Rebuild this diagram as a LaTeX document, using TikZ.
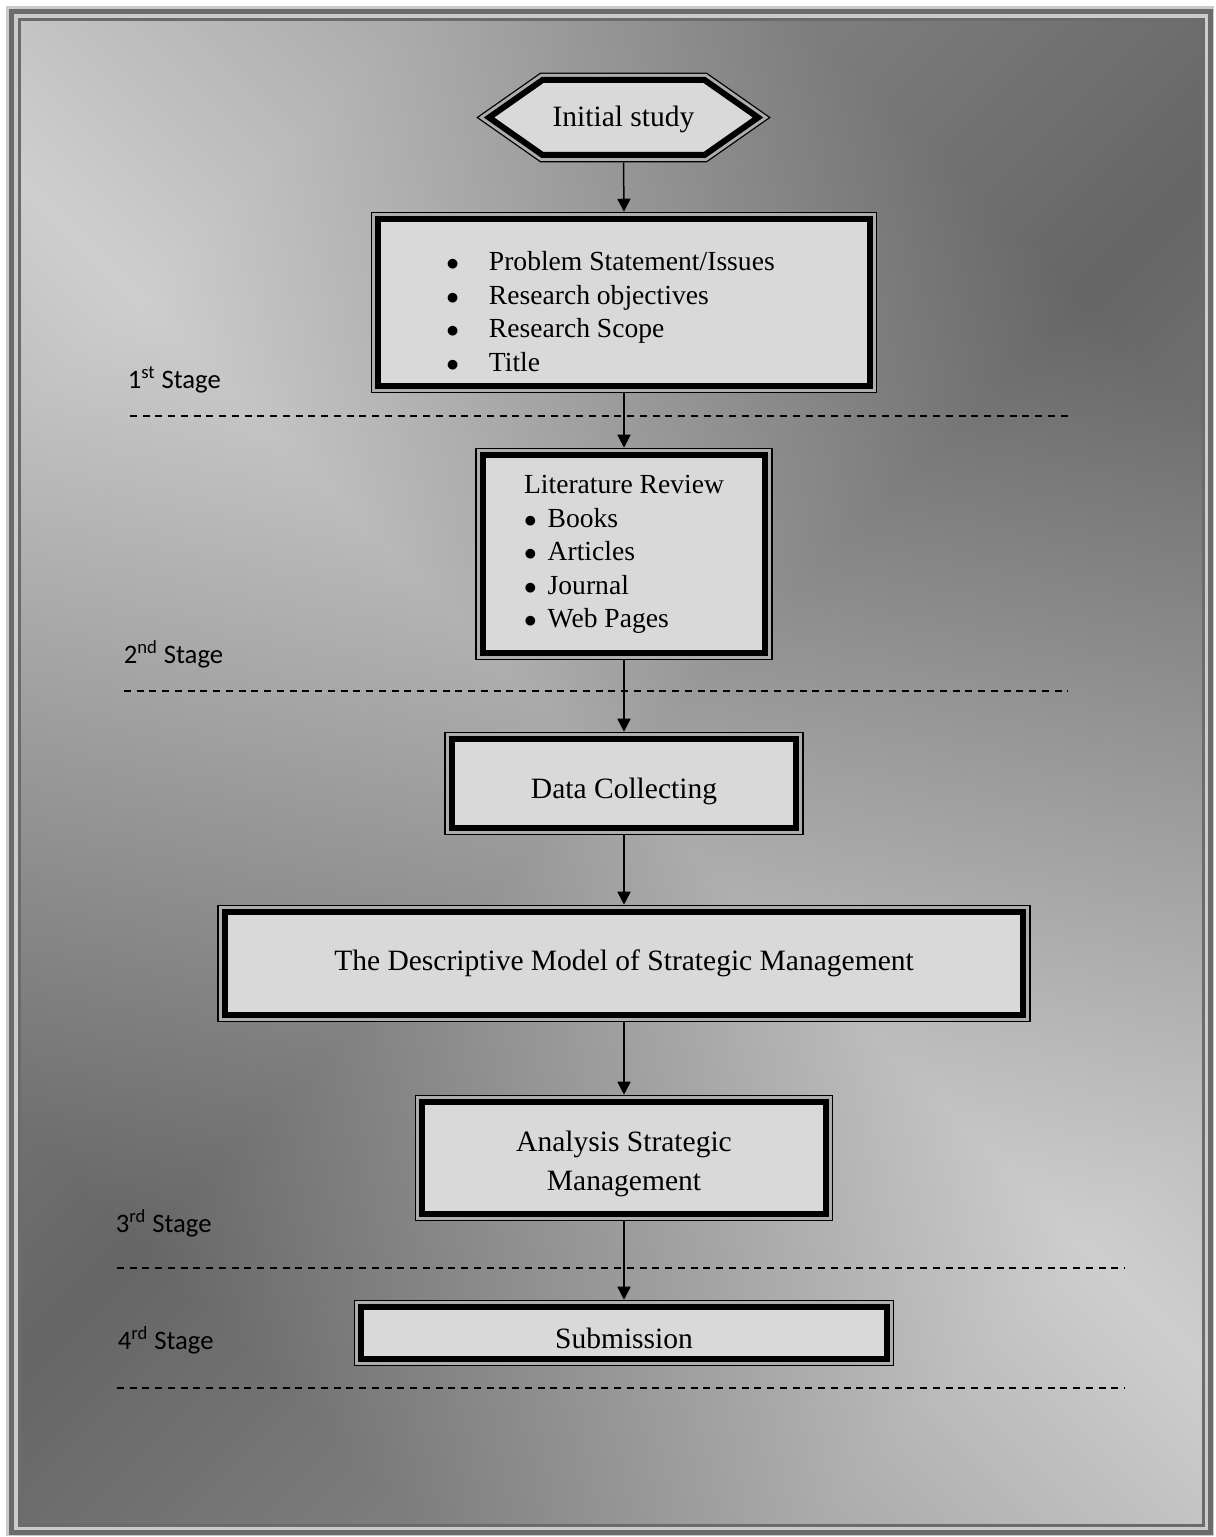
\documentclass[tikz,border=0pt]{standalone}
\usepackage{fontspec}
\setmainfont{Liberation Serif}
\newfontfamily\stagefont{Carlito}
\usetikzlibrary{arrows.meta}

\definecolor{boxfill}{gray}{0.85}
\definecolor{gapgray}{gray}{0.68}
\definecolor{framedark}{gray}{0.42}
\definecolor{framelight}{gray}{0.80}
\definecolor{shadelight}{gray}{0.81}
\definecolor{shadedark}{gray}{0.40}

\tikzset{
  dbledge/.style={draw=black, line width=0.12cm, fill=boxfill,
    preaction={draw=black, line width=0.292cm},
    preaction={draw=gapgray, line width=0.24cm}},
  stagebox/.style={dbledge, outer sep=0.146cm, inner sep=0pt,
    font=\fontsize{16.8}{19.1}\selectfont},
  listfont/.style={font=\fontsize{15.7}{19.1}\selectfont},
  stagelabel/.style={anchor=base west, inner sep=0pt,
    font=\stagefont\fontsize{15.2}{18}\selectfont},
  sepline/.style={dash pattern=on 0.14cm off 0.115cm, line width=0.04cm},
}

\begin{document}
\begin{tikzpicture}[x=0.02cm,y=-0.02cm,line width=0.03cm,>={Triangle[length=0.26cm,width=0.26cm]}]
  \useasboundingbox (0,0) rectangle (1216,1537);
  % page frame and shaded background
  \fill[framelight] (6,6) rectangle (1214,1536);
  \shade[top color=shadelight, bottom color=shadelight, middle color=shadedark, shading angle=45]
    (19.5,19.5) rectangle (1203.5,1525.5);
  \shade[top color=shadedark, bottom color=shadedark, middle color=shadelight, shading angle=-45, opacity=0.6]
    (19.5,19.5) rectangle (1203.5,1525.5);
  \draw[framedark, line width=0.1cm] (11.5,11.5) rectangle (1210.5,1532);
  \draw[framedark, line width=0.06cm] (19.5,19.5) rectangle (1203.5,1525.5);

  % stage separators
  \draw[sepline] (130,416) -- (1072,416);
  \draw[sepline] (124,691) -- (1068,691);
  \draw[sepline] (117,1268) -- (1125,1268);
  \draw[sepline] (117,1388) -- (1125,1388);

  % start: hexagon
  \coordinate (hexc) at (623.5,117.5);
  \path[dbledge] ([xshift=-2.69cm]hexc) -- ++(53.5,-37.5) -- ++(162,0) -- ++(53.5,37.5)
    -- ++(-53.5,37.5) -- ++(-162,0) -- cycle;
  \node[inner sep=0pt, minimum height=1.78cm, text height=0.38cm, text depth=0pt,
    font=\fontsize{16.8}{19.1}\selectfont] (init) at (hexc) {Initial study};

  \node[stagebox, listfont, minimum width=9.84cm, minimum height=3.34cm] (prob) at (624,302.5)
    {\begin{tabular}{@{}l@{\hspace{0.6cm}}l@{\hspace{0.54cm}}}
      \noalign{\vspace{0.48cm}}
      $\bullet$ & Problem Statement/Issues\\
      $\bullet$ & Research objectives\\
      $\bullet$ & Research Scope\\
      $\bullet$ & Title
    \end{tabular}};
  \node[stagebox, listfont, minimum width=5.66cm, minimum height=3.96cm] (lit) at (624,554)
    {\begin{tabular}{@{}l@{\hspace{0.22cm}}l@{}}
      \multicolumn{2}{@{}l@{}}{Literature Review}\\
      $\bullet$ & Books\\
      $\bullet$ & Articles\\
      $\bullet$ & Journal\\
      $\bullet$ & Web Pages
    \end{tabular}};
  \node[stagebox, minimum width=6.9cm, minimum height=1.78cm, text height=0.58cm, text depth=0pt]
    (data) at (624,783.5) {Data Collecting};
  \node[stagebox, minimum width=15.98cm, minimum height=2.06cm] (model) at (624,963.5)
    {The Descriptive Model of Strategic Management};
  \node[stagebox, minimum width=8.08cm, minimum height=2.24cm, font=\fontsize{16.8}{22.1}\selectfont]
    (ana) at (624,1158)
    {\begin{tabular}{@{}c@{}}
      \noalign{\vspace{0.2cm}}
      Analysis Strategic\\
      Management
    \end{tabular}};
  \node[stagebox, minimum width=10.52cm, minimum height=1.04cm, text height=0.6cm, text depth=0pt]
    (sub) at (624,1333) {Submission};

  \draw[->] (init.south) -- (prob.north);
  \draw[->] (prob.south) -- (lit.north);
  \draw[->] (lit.south) -- (data.north);
  \draw[->] (data.south) -- (model.north);
  \draw[->] (model.south) -- (ana.north);
  \draw[->] (ana.south) -- (sub.north);

  % stage labels
  \node[stagelabel] (st1) at (127,388) {1\textsuperscript{st} Stage};
  \node[stagelabel] (st2) at (123,663) {2\textsuperscript{nd} Stage};
  \node[stagelabel] (st3) at (115,1232) {3\textsuperscript{rd} Stage};
  \node[stagelabel] (st4) at (117,1349) {4\textsuperscript{rd} Stage};
\end{tikzpicture}
\end{document}
